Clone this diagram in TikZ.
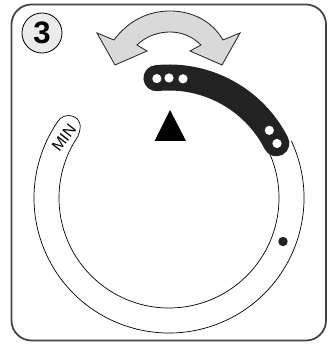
\documentclass[tikz,border=0pt]{standalone}
\usepackage{fontspec}
\setmainfont{Liberation Sans}
\usepackage{xcolor}
\usetikzlibrary{positioning}
\definecolor{frameline}{HTML}{444444}
\definecolor{darkband}{HTML}{222222}
\definecolor{lightarrow}{HTML}{D9D9D9}
\definecolor{badge}{HTML}{EBEBEB}
\begin{document}
\begin{tikzpicture}[x=0.03cm,y=0.03cm]
  \useasboundingbox (0,0) rectangle (333,344);
  \draw[frameline,line width=1.5pt,rounded corners=0.6cm] (11.5,3.5) rectangle (326,339.5);
  \node[circle,draw=black,line width=0.7pt,fill=badge,minimum size=1.2cm,inner sep=0pt,font=\bfseries\fontsize{26.5}{26.5}\selectfont] (badge3) at (42,311) {3};
  \draw[darkband,line width=0.7pt,fill=lightarrow] (97,311)--(114,304)
    .. controls (128,323) and (148,333) .. (170,333)
    .. controls (192,333) and (212,323) .. (223,304)
    --(240,311)--(222,279)--(190,293)--(201,299)
    .. controls (192,308) and (181,312) .. (170,312)
    .. controls (159,312) and (146,308) .. (137,299)
    --(147,293)--(115,279)--cycle;
  \coordinate (hub) at (169,146);
  \draw[black,line width=0.6pt,fill=white] ([shift={(25:135)}]hub) arc[start angle=25,end angle=-214,radius=135]
    .. controls (63,234) and (88,230) .. ([shift={(146:110)}]hub)
    arc[start angle=-214,end angle=25,radius=110];
  \node[rotate=52,font=\fontsize{13.5}{13.5}\selectfont,inner sep=0pt] (minlab) at (64,206) {MIN};
  \draw[darkband,line width=0.78cm,line cap=round] ([shift={(96:120.5)}]hub) arc[start angle=96,end angle=27,radius=120.5];
  \foreach \ang/\rad in {95.8/120,90/120,83.3/120,34/121,26.8/121}
    {\fill[white] ([shift={(\ang:\rad)}]hub) circle (4.6);}
  \fill[black] (170,234)--(154.5,203)--(186,203)--cycle;
  \fill[darkband] (283,102.5) circle (4.7);
\end{tikzpicture}
\end{document}
